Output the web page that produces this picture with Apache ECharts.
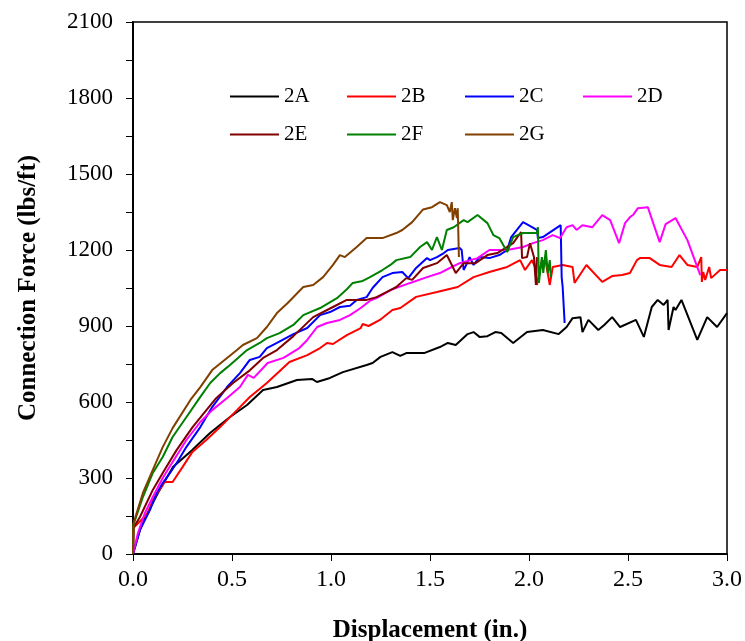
<!DOCTYPE html>
<html>
<head>
<meta charset="utf-8">
<script src="https://cdn.jsdelivr.net/npm/echarts@6/dist/echarts.min.js"></script>
<style>
  html, body { margin: 0; padding: 0; background: #fff; }
</style>
</head>
<body>
<div id="chart" style="width: 745px;height: 641px;"></div>
<script>
// series names / colours
const seriesNames = ['2A', '2B', '2C', '2D', '2E', '2F', '2G']
const seriesColors = ['#000000', '#ff0000', '#0000ff', '#ff00ff', '#800000', '#008000', '#804000']

// [displacement (in.), force (lbs/ft)]
const s2A = [[0, 0], [0.035, 95], [0.05, 126], [0.126, 241], [0.202, 343], [0.298, 410], [0.389, 478], [0.49, 541], [0.576, 588], [0.657, 647], [0.727, 659], [0.828, 687], [0.904, 691], [0.929, 679], [0.995, 695], [1.06, 718], [1.18, 746], [1.21, 754], [1.25, 778], [1.31, 797], [1.35, 782], [1.38, 793], [1.47, 793], [1.55, 817], [1.59, 833], [1.63, 825], [1.69, 868], [1.72, 876], [1.75, 857], [1.79, 860], [1.83, 876], [1.86, 872], [1.92, 833], [1.99, 876], [2.07, 884], [2.15, 868], [2.19, 896], [2.22, 931], [2.26, 935], [2.27, 876], [2.30, 924], [2.35, 884], [2.38, 904], [2.42, 935], [2.46, 896], [2.54, 924], [2.58, 857], [2.62, 975], [2.65, 1003], [2.68, 983], [2.70, 1003], [2.705, 884], [2.73, 975], [2.74, 963], [2.77, 1003], [2.85, 845], [2.90, 935], [2.95, 896], [3.0, 951]]
const s2B = [[0, 0], [0.003, 103], [0.076, 162], [0.10, 213], [0.16, 284], [0.20, 284], [0.25, 343], [0.30, 403], [0.37, 450], [0.44, 501], [0.525, 568], [0.59, 620], [0.676, 675], [0.79, 758], [0.88, 785], [0.945, 813], [0.98, 833], [1.01, 829], [1.08, 864], [1.15, 892], [1.16, 908], [1.19, 900], [1.247, 924], [1.31, 963], [1.35, 971], [1.43, 1015], [1.535, 1034], [1.64, 1054], [1.72, 1093], [1.80, 1113], [1.89, 1133], [1.955, 1160], [1.98, 1121], [2.015, 1160], [2.03, 1133], [2.04, 1062], [2.065, 1160], [2.085, 1150], [2.105, 1062], [2.12, 1133], [2.17, 1141], [2.22, 1133], [2.23, 1070], [2.29, 1141], [2.37, 1074], [2.42, 1097], [2.47, 1101], [2.51, 1109], [2.545, 1160], [2.56, 1168], [2.61, 1168], [2.66, 1141], [2.72, 1133], [2.76, 1180], [2.80, 1141], [2.85, 1133], [2.87, 1172], [2.873, 1074], [2.88, 1113], [2.89, 1082], [2.91, 1133], [2.92, 1089], [2.965, 1121], [3.0, 1121]]
const s2C = [[0, 0], [0.035, 95], [0.086, 174], [0.12, 241], [0.15, 280], [0.187, 320], [0.23, 371], [0.27, 423], [0.34, 501], [0.40, 580], [0.475, 659], [0.54, 714], [0.59, 766], [0.64, 778], [0.676, 813], [0.727, 833], [0.81, 868], [0.88, 892], [0.945, 943], [0.995, 955], [1.045, 975], [1.096, 980], [1.13, 1003], [1.18, 1014], [1.21, 1050], [1.26, 1093], [1.31, 1109], [1.36, 1113], [1.39, 1089], [1.43, 1129], [1.485, 1168], [1.50, 1160], [1.535, 1172], [1.57, 1188], [1.59, 1200], [1.65, 1208], [1.66, 1200], [1.67, 1121], [1.69, 1152], [1.70, 1172], [1.72, 1141], [1.75, 1172], [1.80, 1168], [1.85, 1180], [1.89, 1200], [1.91, 1251], [1.97, 1310], [2.04, 1279], [2.045, 1247], [2.07, 1251], [2.16, 1298], [2.165, 1093], [2.17, 1054], [2.18, 912]]
const s2D = [[0, 0], [0.025, 83], [0.06, 162], [0.10, 225], [0.15, 300], [0.20, 363], [0.27, 450], [0.34, 521], [0.40, 568], [0.475, 616], [0.54, 659], [0.58, 707], [0.61, 695], [0.68, 754], [0.76, 774], [0.84, 813], [0.88, 845], [0.93, 896], [0.98, 912], [1.045, 924], [1.096, 943], [1.15, 971], [1.197, 1000], [1.23, 1010], [1.30, 1042], [1.40, 1070], [1.485, 1093], [1.55, 1109], [1.60, 1129], [1.65, 1148], [1.74, 1168], [1.80, 1200], [1.89, 1200], [1.97, 1212], [2.02, 1227], [2.07, 1239], [2.12, 1259], [2.157, 1247], [2.19, 1290], [2.22, 1298], [2.24, 1279], [2.27, 1298], [2.32, 1290], [2.37, 1338], [2.41, 1318], [2.455, 1227], [2.485, 1306], [2.51, 1330], [2.525, 1338], [2.55, 1365], [2.60, 1369], [2.66, 1231], [2.69, 1302], [2.74, 1326], [2.80, 1239], [2.865, 1101]]
const s2E = [[0, 0], [0.003, 105], [0.035, 146], [0.10, 253], [0.15, 320], [0.22, 410], [0.30, 500], [0.35, 548], [0.42, 615], [0.505, 675], [0.59, 725], [0.657, 774], [0.727, 805], [0.81, 860], [0.91, 935], [1.01, 975], [1.08, 1003], [1.18, 1003], [1.23, 1014], [1.30, 1042], [1.33, 1054], [1.38, 1089], [1.41, 1082], [1.465, 1129], [1.535, 1148], [1.585, 1180], [1.63, 1109], [1.67, 1148], [1.73, 1148], [1.79, 1180], [1.84, 1188], [1.89, 1212], [1.92, 1227], [1.96, 1271], [1.965, 1168], [1.99, 1172], [2.005, 1227], [2.025, 1172], [2.035, 1062], [2.04, 1172]]
const s2F = [[0, 0], [0.002, 115], [0.05, 225], [0.10, 320], [0.15, 383], [0.20, 462], [0.27, 541], [0.34, 620], [0.39, 675], [0.44, 714], [0.49, 746], [0.576, 805], [0.64, 833], [0.676, 852], [0.74, 872], [0.81, 904], [0.86, 943], [0.945, 971], [1.03, 1010], [1.08, 1045], [1.11, 1070], [1.16, 1078], [1.197, 1093], [1.26, 1121], [1.30, 1141], [1.33, 1160], [1.40, 1172], [1.45, 1212], [1.485, 1231], [1.51, 1200], [1.535, 1251], [1.56, 1200], [1.585, 1279], [1.62, 1290], [1.67, 1318], [1.69, 1310], [1.74, 1338], [1.79, 1306], [1.82, 1259], [1.85, 1247], [1.89, 1192], [1.92, 1251], [1.97, 1267], [2.04, 1267], [2.045, 1290], [2.05, 1070], [2.065, 1172], [2.072, 1110], [2.085, 1200], [2.095, 1109], [2.105, 1160], [2.11, 1093]]
const s2G = [[0, 0], [0.002, 120], [0.05, 241], [0.10, 332], [0.15, 422], [0.20, 497], [0.29, 608], [0.34, 659], [0.40, 726], [0.475, 774], [0.525, 805], [0.555, 825], [0.626, 852], [0.676, 896], [0.727, 951], [0.78, 990], [0.86, 1054], [0.91, 1062], [0.96, 1093], [1.01, 1141], [1.045, 1180], [1.07, 1172], [1.13, 1212], [1.18, 1247], [1.26, 1247], [1.33, 1267], [1.36, 1279], [1.41, 1310], [1.465, 1360], [1.51, 1369], [1.55, 1389], [1.585, 1377], [1.60, 1350], [1.61, 1389], [1.615, 1318], [1.626, 1365], [1.636, 1326], [1.64, 1365], [1.646, 1172]]

const allData = [s2A, s2B, s2C, s2D, s2E, s2F, s2G]

// legend slots: 4 in first row, 3 in second
const legendLeft = [225, 342, 460, 578, 225, 342, 460]
const legendTop = [81, 81, 81, 81, 119, 119, 119]

const fontFamily = '"Liberation Serif", "Times New Roman", serif'

const lineChart = echarts.init(document.getElementById('chart'))

const option = {
  animation: false,
  backgroundColor: '#fff',
  grid: {
    left: 133,
    right: 18,
    top: 22,
    bottom: 87,
    outerBoundsMode: 'none',
    show: true,
    borderColor: '#000',
    borderWidth: 1.5
  },
  legend: seriesNames.map((name, i) => ({
    data: [name],
    left: legendLeft[i],
    top: legendTop[i],
    icon: 'rect',
    itemWidth: 49,
    itemHeight: 2,
    itemGap: 0,
    textStyle: {
      fontFamily: fontFamily,
      fontSize: 21,
      color: '#000'
    }
  })),
  xAxis: {
    type: 'value',
    min: 0,
    max: 3,
    interval: 0.5,
    name: 'Displacement (in.)',
    nameLocation: 'middle',
    nameGap: 64,
    nameTextStyle: {
      fontFamily: fontFamily,
      fontSize: 25,
      fontWeight: 'bold',
      color: '#000'
    },
    axisLine: { show: true, lineStyle: { color: '#000', width: 2 } },
    axisTick: { show: true, length: 7, lineStyle: { color: '#000', width: 1 } },
    splitLine: { show: false },
    axisLabel: {
      margin: 14,
      fontFamily: fontFamily,
      fontSize: 24,
      color: '#000',
      formatter: v => v.toFixed(1)
    }
  },
  yAxis: {
    type: 'value',
    min: 0,
    max: 2100,
    interval: 300,
    name: 'Connection Force (lbs/ft)',
    nameLocation: 'middle',
    nameGap: 92,
    nameTextStyle: {
      fontFamily: fontFamily,
      fontSize: 25,
      fontWeight: 'bold',
      color: '#000'
    },
    axisLine: { show: true, lineStyle: { color: '#000', width: 2 } },
    axisTick: { show: true, length: 7, lineStyle: { color: '#000', width: 1 } },
    minorTick: { show: true, splitNumber: 2, length: 7, lineStyle: { color: '#000', width: 1 } },
    splitLine: { show: false },
    axisLabel: {
      margin: 20,
      fontFamily: fontFamily,
      fontSize: 23,
      color: '#000',
      formatter: v => String(v)
    }
  },
  series: seriesNames.map((name, i) => ({
    name: name,
    type: 'line',
    data: allData[i],
    symbol: 'none',
    color: seriesColors[i],
    lineStyle: { width: 2, color: seriesColors[i] },
    clip: true
  }))
}

lineChart.setOption(option)
</script>
</body>
</html>
